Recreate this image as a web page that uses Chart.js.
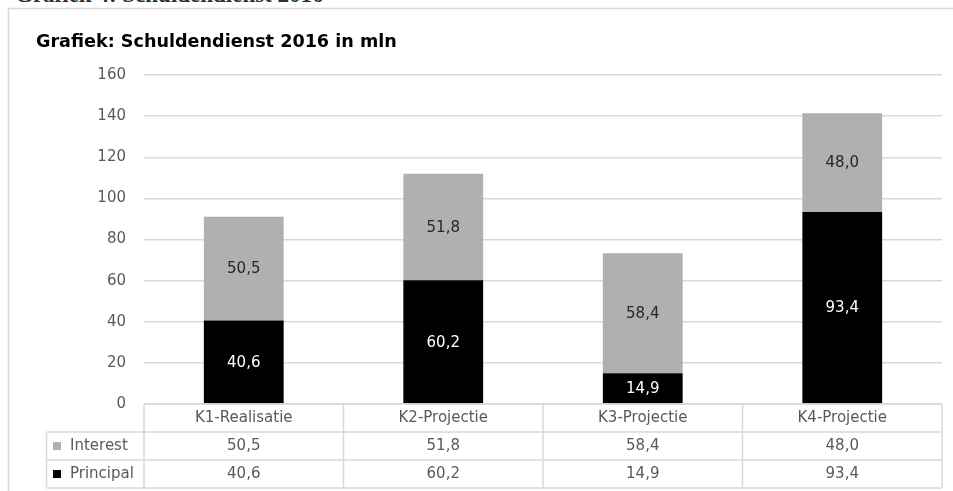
<!DOCTYPE html>
<html>
<head>
<meta charset="utf-8">
<script src="https://cdn.jsdelivr.net/npm/chart.js@4"></script>
<style>
  html, body { margin: 0; padding: 0; background: #fff; overflow: hidden; }
  #wrap { position: relative; width: 953px; height: 491px; }
  #heading {
    position: absolute; left: 15px; top: -18px;
    font: bold 23px "Liberation Serif", serif; color: #2f2f2f;
    line-height: 26px; white-space: nowrap;
  }
  canvas { position: absolute; left: 0; top: 0; }
</style>
</head>
<body>
<div id="wrap">
  <div id="heading">Grafiek 4: Schuldendienst 2016</div>
  <canvas id="chart" width="953" height="491"></canvas>
</div>
<script>
// Schuldendienst per kwartaal (mln)
const categories = ['K1-Realisatie', 'K2-Projectie', 'K3-Projectie', 'K4-Projectie'];
const interest = [50.5, 51.8, 58.4, 48.0];
const principal = [40.6, 60.2, 14.9, 93.4];
const seriesNames = ['Interest', 'Principal'];
const yMin = 0, yMax = 160, yStep = 20;

const FONT = '"DejaVu Sans", sans-serif';
const GRID = '#d9d9d9';
const GREY = '#b0b0b0';

function fmt(v) {
    return v.toFixed(1).replace('.', ',');
}

// Frame, title, value labels and the data table under the axis
const tablePlugin = {
    id: 'dataTable',
    afterDatasetsDraw(chart) {
        const ctx = chart.ctx;
        ctx.save();
        ctx.font = '15px ' + FONT;
        ctx.textAlign = 'center';
        ctx.textBaseline = 'middle';
        chart.data.datasets.forEach((ds, i) => {
            const meta = chart.getDatasetMeta(i);
            meta.data.forEach((bar, j) => {
                ctx.fillStyle = ds.label === 'Principal' ? '#ffffff' : '#262626';
                ctx.fillText(fmt(ds.data[j]), bar.x, (bar.y + bar.base) / 2 + 1);
            });
        });
        ctx.restore();
    },
    afterDraw(chart) {
        const ctx = chart.ctx;
        const area = chart.chartArea;
        const n = categories.length;
        const colW = (area.right - area.left) / n;
        const rowTop = 404, rowH = 28, legendLeft = 46.5;

        ctx.save();

        // outer frame
        ctx.strokeStyle = GRID;
        ctx.lineWidth = 1.5;
        ctx.beginPath();
        ctx.moveTo(8.5, 491);
        ctx.lineTo(8.5, 8.5);
        ctx.lineTo(953, 8.5);
        ctx.stroke();

        // chart title
        ctx.fillStyle = '#000';
        ctx.font = 'bold 17.6px ' + FONT;
        ctx.textAlign = 'left';
        ctx.textBaseline = 'middle';
        ctx.fillText('Grafiek: Schuldendienst 2016 in mln', 36, 42);

        // table grid
        ctx.strokeStyle = GRID;
        ctx.lineWidth = 1.5;
        ctx.beginPath();
        ctx.moveTo(area.left, rowTop);
        ctx.lineTo(area.right, rowTop);
        for (let r = 1; r <= 3; r++) {
            ctx.moveTo(legendLeft, rowTop + r * rowH);
            ctx.lineTo(area.right, rowTop + r * rowH);
        }
        for (let c = 0; c <= n; c++) {
            ctx.moveTo(area.left + c * colW, rowTop);
            ctx.lineTo(area.left + c * colW, rowTop + 3 * rowH);
        }
        ctx.moveTo(legendLeft, rowTop + rowH);
        ctx.lineTo(legendLeft, rowTop + 3 * rowH);
        ctx.stroke();

        // header and values
        ctx.font = '15px ' + FONT;
        ctx.textAlign = 'center';
        ctx.fillStyle = '#595959';
        const rows = [interest, principal];
        categories.forEach((cat, c) => {
            const cx = area.left + (c + 0.5) * colW;
            ctx.fillText(cat, cx, rowTop + rowH / 2);
            rows.forEach((vals, r) => {
                ctx.fillText(fmt(vals[c]), cx, rowTop + (r + 1.5) * rowH);
            });
        });

        // legend keys in the first column
        ctx.textAlign = 'left';
        seriesNames.forEach((name, r) => {
            const cy = rowTop + (r + 1.5) * rowH;
            ctx.fillStyle = name === 'Principal' ? '#000' : GREY;
            ctx.fillRect(53, cy - 4, 8, 8);
            ctx.fillStyle = '#595959';
            ctx.fillText(name, 70, cy);
        });

        ctx.restore();
    }
};

new Chart(document.getElementById('chart'), {
    type: 'bar',
    data: {
        labels: categories,
        datasets: [
            { label: 'Principal', data: principal, backgroundColor: '#000000' },
            { label: 'Interest', data: interest, backgroundColor: GREY }
        ]
    },
    options: {
        responsive: false,
        animation: false,
        events: [],
        layout: { padding: { left: 0, right: 11, top: 75, bottom: 87 } },
        datasets: {
            bar: { categoryPercentage: 1, barPercentage: 0.4 }
        },
        scales: {
            x: {
                stacked: true,
                display: false
            },
            y: {
                stacked: true,
                min: yMin,
                max: yMax,
                border: { display: false },
                grid: { color: GRID, lineWidth: 1.5, drawTicks: false },
                ticks: {
                    stepSize: yStep,
                    padding: 18,
                    color: '#595959',
                    font: { family: FONT, size: 15 }
                },
                afterFit(scale) { scale.width = 144; }
            }
        },
        plugins: {
            legend: { display: false },
            title: { display: false },
            tooltip: { enabled: false }
        }
    },
    plugins: [tablePlugin]
});
</script>
</body>
</html>
